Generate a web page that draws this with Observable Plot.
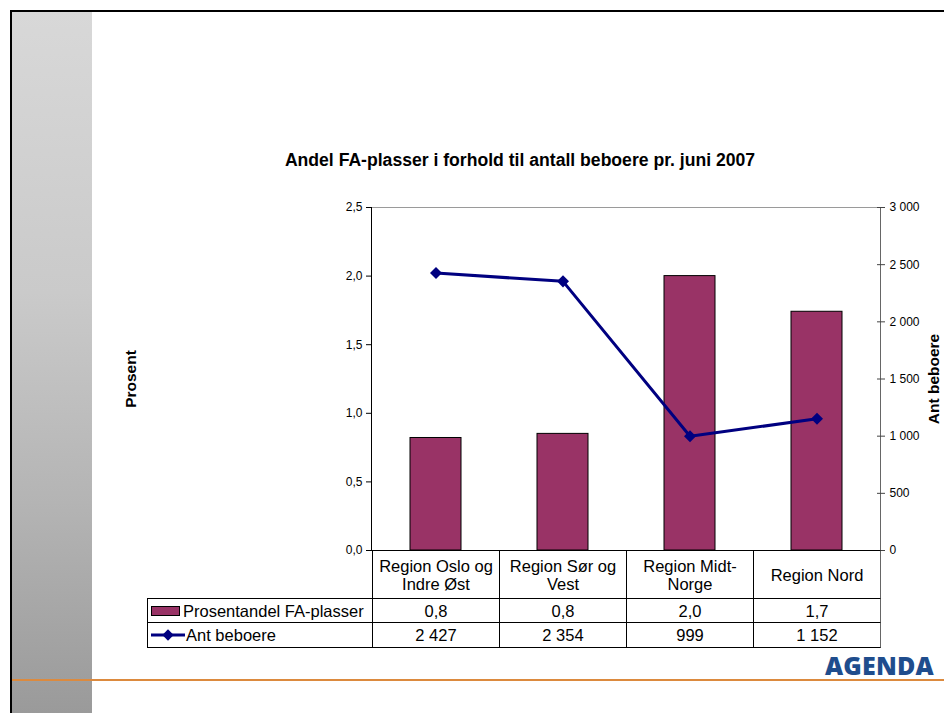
<!DOCTYPE html>
<html>
<head>
<meta charset="utf-8">
<script src="https://cdn.jsdelivr.net/npm/d3@7"></script>
<script src="https://cdn.jsdelivr.net/npm/@observablehq/plot@0.6"></script>
<style>
  html, body { margin: 0; padding: 0; background: #fff; }
  #page { position: relative; width: 944px; height: 713px; overflow: hidden;
          font-family: "Liberation Sans", Arial, sans-serif; color: #000; }
  #strip { position: absolute; left: 12px; top: 12px; width: 80px; bottom: 0;
           background: linear-gradient(#d8d8d8, #cacaca 40%, #b4b4b4 70%, #9a9a9a); }
  #edgeTop { position: absolute; left: 10px; top: 10px; right: 0; height: 2px; background: #000; }
  #edgeLeft { position: absolute; left: 10px; top: 10px; width: 2px; bottom: 0; background: #000; }
  #footRule { position: absolute; left: 12px; right: 0; top: 679px; height: 2px; background: #dc8a3e; }
  #chart { position: absolute; left: 0; top: 0; }
  #title { position: absolute; left: 0; width: 1040px; top: 150px; text-align: center;
           font-weight: bold; font-size: 17.6px; line-height: 20px; }
  #logo { position: absolute; left: 825px; top: 648px; font-family: "Open Sans", sans-serif;
          font-weight: 800; font-size: 25px; letter-spacing: 0.2px; color: #1f4d8d; }
  .cell { position: absolute; box-sizing: border-box; border: 1px solid #000;
          display: flex; align-items: center; justify-content: center; text-align: center;
          font-size: 16.5px; line-height: 18px; white-space: pre-line; background: #fff; }
  .cell.key { justify-content: flex-start; padding-left: 3px; }
  .swatch { display: inline-block; box-sizing: border-box; width: 29px; height: 10px;
            background: #993366; border: 1px solid #000; margin-right: 3px; }
  .lineKey { margin-right: 1px; }
</style>
</head>
<body>
<div id="page">
  <div id="strip"></div>
  <div id="edgeTop"></div>
  <div id="edgeLeft"></div>
  <div id="footRule"></div>
  <div id="chart"></div>
  <div id="title">Andel FA-plasser i forhold til antall beboere pr. juni 2007</div>
  <div id="logo">AGENDA</div>
</div>
<script>
// Regions (column headers of the data table)
const regions = ["Region Oslo og\nIndre Øst", "Region Sør og\nVest", "Region Midt-\nNorge", "Region Nord"];
// Share of FA places, percent (left axis, bars)
const andel = [0.82, 0.85, 2.0, 1.74];
// Number of residents (right axis, line)
const beboere = [2427, 2354, 999, 1152];

// Axis ticks
const pctTicks = [0, 0.5, 1.0, 1.5, 2.0, 2.5];
const countTicks = [0, 500, 1000, 1500, 2000, 2500, 3000];

const seriesNames = ["Prosentandel FA-plasser", "Ant beboere"];
const axisTitles = ["Prosent", "Ant beboere"];

const pctMax = 2.5;
const countMax = 3000;
const toPct = v => v * pctMax / countMax;   // maps residents onto the left scale

const nb = d3.formatLocale({decimal: ",", thousands: " ", grouping: [3], currency: ["", " kr"]});
const fmtPct = nb.format(".1f");
const fmtCount = nb.format(",d");

const rows = regions.map((region, i) => ({region, andel: andel[i], beboere: beboere[i]}));

const plum = "#993366";
const navy = "#000080";

const chart = Plot.plot({
  width: 944,
  height: 713,
  marginTop: 207,
  marginBottom: 163,
  marginLeft: 371,
  marginRight: 64,
  style: {background: "transparent", fontFamily: "Liberation Sans, Arial, sans-serif", fontSize: "12px", color: "#000"},
  x: {domain: regions, padding: 0, axis: null},
  y: {domain: [0, pctMax], axis: null},
  marks: [
    Plot.frame({anchor: "top", stroke: "#9a9a9a"}),
    Plot.frame({anchor: "right", stroke: "#666"}),
    Plot.barY(rows, {x: "region", y: "andel", fill: plum, stroke: "#000", strokeWidth: 1, insetLeft: 38, insetRight: 38}),
    Plot.frame({anchor: "left", stroke: "#000"}),
    Plot.ruleY([0], {stroke: "#000"}),
    Plot.axisY(pctTicks, {anchor: "left", tickSize: 5, tickPadding: 4, tickFormat: fmtPct, label: null, fontSize: 12}),
    Plot.axisY(countTicks, {anchor: "right", y: d => toPct(d), text: d => fmtCount(d), tickSize: 8, dx: -4, tickPadding: 5, label: null, stroke: "#444", fontSize: 12}),
    Plot.line(rows, {x: "region", y: d => toPct(d.beboere), stroke: navy, strokeWidth: 3}),
    Plot.dot(rows, {x: "region", y: d => toPct(d.beboere), symbol: "square", rotate: 45, r: 4.8, fill: navy, stroke: null}),
    Plot.text([axisTitles[0]], {frameAnchor: "left", textAnchor: "middle", dx: -240, rotate: -90, fontWeight: "bold", fontSize: 15.5}),
    Plot.text([axisTitles[1]], {frameAnchor: "right", textAnchor: "middle", dx: 54, rotate: -90, fontWeight: "bold", fontSize: 15.5})
  ]
});
document.getElementById("chart").appendChild(chart);

// Data table under the plot, columns aligned with the x band scale
const xs = chart.scale("x");
const bw = xs.bandwidth;
const page = document.getElementById("page");
const tableTop = 550;
const rowH = [48, 24, 25];
const keyLeft = 147;
const plotLeft = xs.apply(regions[0]);

function cell(x, y, w, h, html, cls, extra) {
  const d = document.createElement("div");
  d.className = "cell" + (cls ? " " + cls : "");
  d.style.left = x + "px";
  d.style.top = y + "px";
  d.style.width = (w + 1) + "px";
  d.style.height = (h + 1) + "px";
  if (extra) Object.assign(d.style, extra);
  d.innerHTML = html;
  page.appendChild(d);
  return d;
}

const y1 = tableTop + rowH[0];
const y2 = y1 + rowH[1];

regions.forEach((r, i) => {
  const x = xs.apply(r);
  const last = i === regions.length - 1;
  const side = last ? {borderRightColor: "#666"} : null;
  cell(x, tableTop, bw, rowH[0], "", null, side).textContent = r;
  cell(x, y1, bw, rowH[1], fmtPct(andel[i]), null, side);
  cell(x, y2, bw, rowH[2], fmtCount(beboere[i]), null, side);
});

cell(keyLeft, y1, plotLeft - keyLeft, rowH[1],
  `<span class="swatch"></span>${seriesNames[0]}`, "key");
cell(keyLeft, y2, plotLeft - keyLeft, rowH[2],
  `<svg class="lineKey" width="34" height="12" viewBox="0 0 34 12"><line x1="0" y1="6" x2="34" y2="6" stroke="${navy}" stroke-width="3"/><rect x="13" y="2" width="8" height="8" fill="${navy}" transform="rotate(45 17 6)"/></svg>${seriesNames[1]}`, "key");
</script>
</body>
</html>
